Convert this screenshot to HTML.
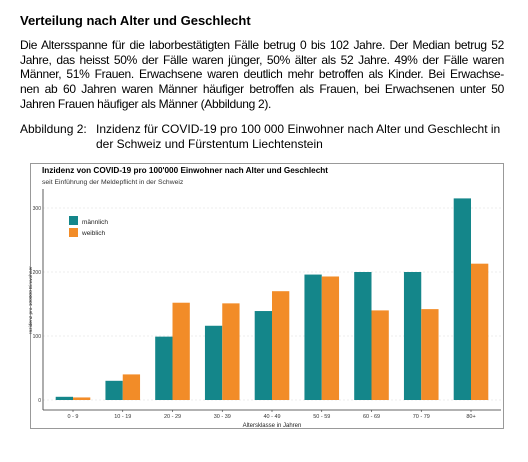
<!DOCTYPE html>
<html><head><meta charset="utf-8"><style>
body{margin:0;width:528px;height:462px;background:#fff;font-family:"Liberation Sans",Arial,sans-serif;color:#000;position:relative;overflow:hidden}
.h{position:absolute;left:20px;top:13px;font-size:13px;font-weight:bold}
.p{position:absolute;left:20px;top:38px;width:484px;font-size:12px;line-height:14.7px;letter-spacing:-0.3px}
.p div{white-space:nowrap;height:14.7px;overflow:visible}
.j{text-align:justify;text-align-last:justify;white-space:normal!important}
.cap{position:absolute;top:122px;font-size:12px;line-height:14.7px;white-space:nowrap}
</style></head><body>
<div class="h">Verteilung nach Alter und Geschlecht</div>
<div class="p">
<div class="j">Die Altersspanne für die laborbestätigten Fälle betrug 0 bis 102 Jahre. Der Median betrug 52</div>
<div class="j">Jahre, das heisst 50% der Fälle waren jünger, 50% älter als 52 Jahre. 49% der Fälle waren</div>
<div class="j">Männer, 51% Frauen. Erwachsene waren deutlich mehr betroffen als Kinder. Bei Erwachse-</div>
<div class="j">nen ab 60 Jahren waren Männer häufiger betroffen als Frauen, bei Erwachsenen unter 50</div>
<div>Jahren Frauen häufiger als Männer (Abbildung 2).</div>
</div>
<div class="cap" style="left:20px">Abbildung 2:</div>
<div class="cap" style="left:96px">Inzidenz für COVID-19 pro 100 000 Einwohner nach Alter und Geschlecht in<br>der Schweiz und Fürstentum Liechtenstein</div>
<svg id="chart" width="528" height="462" style="position:absolute;left:0;top:0">
<rect x="30.5" y="163.5" width="473" height="265" fill="none" stroke="#999" stroke-width="1"/>
<text x="42" y="173" font-size="8.2" font-weight="bold" font-family="Liberation Sans, sans-serif">Inzidenz von COVID-19 pro 100'000 Einwohner nach Alter und Geschlecht</text>
<text x="42" y="184" font-size="6.8" font-family="Liberation Sans, sans-serif" fill="#333">seit Einführung der Meldepflicht in der Schweiz</text>
<g id="grid"></g><g id="bars"></g><g id="axes"></g>
<rect x="69" y="216" width="9" height="9" fill="#14868a"/>
<text x="82" y="224" font-size="6.5" font-family="Liberation Sans, sans-serif" fill="#222">männlich</text>
<rect x="69" y="228" width="9" height="9" fill="#f28c28"/>
<text x="82" y="235" font-size="6.5" font-family="Liberation Sans, sans-serif" fill="#222">weiblich</text>
<text x="272" y="427" font-size="6" text-anchor="middle" font-family="Liberation Sans, sans-serif" fill="#222">Altersklasse in Jahren</text>
<text transform="translate(32,300) rotate(-90)" font-size="4.8" text-anchor="middle" font-family="Liberation Sans, sans-serif" fill="#222">Inzidenz pro 100000 Einwohner</text>
</svg>
<script>
const categories=["0 - 9","10 - 19","20 - 29","30 - 39","40 - 49","50 - 59","60 - 69","70 - 79","80+"];
const male=[5,30,99,116,139,196,200,200,315];
const female=[4,40,152,151,170,193,140,142,213];
const yTicks=[0,100,200,300];
const ns="http://www.w3.org/2000/svg";
function y(v){return 400-v*0.64;}
function x(i){return 73+i*49.75;}
const bw=17.3;
function mk(t,a,parent){const e=document.createElementNS(ns,t);for(const k in a)e.setAttribute(k,a[k]);document.getElementById(parent).appendChild(e);return e;}
yTicks.forEach(v=>{
 const g=mk('line',{x1:43,x2:501,y1:y(v),y2:y(v),stroke:'#e6e6e6','stroke-dasharray':'2,2','stroke-width':0.7},'grid');
 
 
 const t=mk('text',{x:41,y:y(v)+2,'font-size':5,'text-anchor':'end','font-family':'Liberation Sans, sans-serif',fill:'#333'},'axes');
 t.textContent=v;
 
 
});
mk('line',{x1:43,x2:43,y1:189,y2:410,stroke:'#333','stroke-width':0.8},'axes');
mk('line',{x1:43,x2:501,y1:410,y2:410,stroke:'#333','stroke-width':0.8},'axes');
categories.forEach((c,i)=>{
 const m=mk('rect',{x:x(i)-bw,y:y(male[i]),width:bw,height:400-y(male[i]),fill:'#14868a'},'bars');
 
 
 const f=mk('rect',{x:x(i),y:y(female[i]),width:bw,height:400-y(female[i]),fill:'#f28c28'},'bars');
 
 
 mk('line',{x1:x(i),x2:x(i),y1:410,y2:412,stroke:'#333','stroke-width':0.6},'axes');
 const t=mk('text',{x:x(i),y:418,'font-size':5.5,'text-anchor':'middle','font-family':'Liberation Sans, sans-serif',fill:'#333'},'axes');
 t.textContent=c;
 
 
});
</script>
</body></html>
